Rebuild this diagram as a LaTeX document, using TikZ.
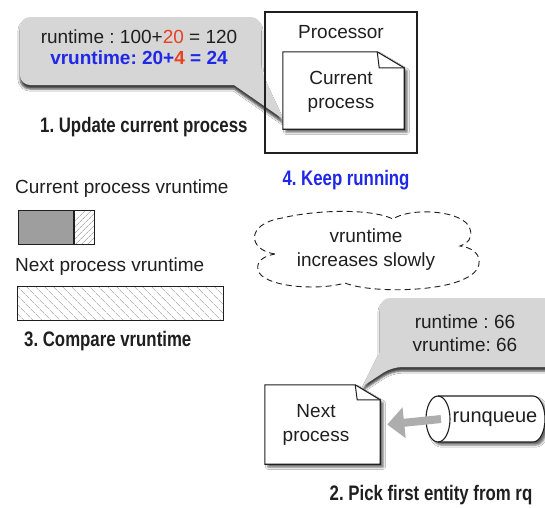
\documentclass[tikz,border=0pt]{standalone}
\usepackage{fontspec}
\setmainfont{Liberation Sans}
\newfontfamily\condbold[FakeStretch=0.8]{Liberation Sans Bold}
\usetikzlibrary{shadows.blur,patterns.meta,arrows.meta}
\frenchspacing
\definecolor{bubblegray}{gray}{0.84}
\definecolor{numred}{RGB}{232,64,32}
\definecolor{vblue}{RGB}{32,40,232}
\definecolor{arrowgray}{gray}{0.68}
\definecolor{ink}{gray}{0.12}
\begin{document}
\begin{tikzpicture}[x=1pt,y=-1pt,
  every node/.style={inner sep=0pt, text=ink, font=\fontsize{19}{24}\selectfont},
  bubble/.style={fill=bubblegray, blur shadow={shadow xshift=0pt, shadow yshift=-4pt, shadow opacity=75}},
  docline/.style={draw=ink, line width=1.1pt, fill=white,
    blur shadow={shadow xshift=3pt, shadow yshift=-3pt, shadow opacity=60}},
  steplabel/.style={font=\condbold\fontsize{21}{24}\selectfont},
  barbox/.style={draw=ink, line width=1.2pt, anchor=north west, minimum height=34pt},
  hatchdown/.style={pattern={Lines[angle=-45,distance=6.5pt,line width=0.7pt]}, pattern color=black!40},
  hatchup/.style={pattern={Lines[angle=45,distance=4pt,line width=0.6pt]}, pattern color=black!45}]
\useasboundingbox (0,0) rectangle (545,507);
\clip (0,0) rectangle (545,507);
\fill[white] (0,0) rectangle (545,507);

% step 1: accounting bubble for the running task
\path[bubble] (20,50) [rounded corners=10pt] |- (261,17) -- (261,72)
  [sharp corners] -- (283,119) -- (234,85) [rounded corners=10pt] -| (20,50) -- cycle;
\node (rt1) at (139,37) {runtime : 100+\textcolor{numred}{20} = 120};
\node (vrt1) at (139,58) {\bfseries\color{vblue}vruntime: 20+\textcolor{numred}{4} = 24};
\node[steplabel, anchor=west] (s1) at (40,127) {1. Update current process};

% processor holding the current task
\node[draw=ink, line width=1.2pt, minimum width=152pt, minimum height=141pt] (proc) at (341,82.5) {};
\node (proclbl) at (341,32) {Processor};
\node[minimum width=121pt, minimum height=77pt] (cur) at (343.5,90.5) {};
\path[docline] (cur.south west) -- (cur.north west) -- ([xshift=-27pt]cur.north east)
  -- ([yshift=-16pt]cur.north east) -- (cur.south east) -- cycle;
\draw[ink, line width=1pt] ([xshift=-27pt]cur.north east) -- ++(2,16) -- ([yshift=-16pt]cur.north east);
\node[align=center] (curtxt) at (341,92) {Current\\process};
\node[steplabel, text=vblue] (s4) at (346,180) {4. Keep running};

% step 3: vruntime bars
\node[anchor=west] (curvlbl) at (15,189) {Current process vruntime};
\node[barbox, fill=black!38, minimum width=55pt] (curbar) at (18,210) {};
\node[barbox, hatchup, minimum width=20pt] (curinc) at (curbar.north east) {};
\node[anchor=west] (nextvlbl) at (15,267) {Next process vruntime};
\node[barbox, hatchdown, minimum width=206pt] (nextbar) at (17,286) {};
\node[steplabel, anchor=west] (s3) at (24,341) {3. Compare vruntime};

% note cloud: four big puffs drawn as one dashed outline
\draw[ink, dash pattern=on 6pt off 4pt, line width=0.9pt]
  (275,254) .. controls (248,250) and (245,224) .. (282,218)
  .. controls (315,210) and (370,208) .. (393,219)
  .. controls (410,207) and (465,210) .. (470,229)
  .. controls (473,238) and (468,243) .. (460,246)
  .. controls (484,249) and (486,270) .. (464,279)
  .. controls (438,292) and (370,293) .. (345,283)
  .. controls (318,291) and (262,287) .. (258,270)
  .. controls (256,261) and (264,256) .. cycle;
\node[align=center] (cloud) at (366,250) {vruntime\\increases slowly};

% step 2: accounting bubble for the next task
\path[bubble] (380,340) [rounded corners=10pt] |- (575,298) |- (392,367)
  [sharp corners] -- (363,386) -- (380,352) -- cycle;
\node (rt2) at (465,322) {runtime : 66};
\node (vrt2) at (465,345) {vruntime: 66};

% next task document
\node[minimum width=115pt, minimum height=79pt] (next) at (322.5,424.5) {};
\path[docline] (next.south west) -- (next.north west) -- ([xshift=-25pt]next.north east)
  -- ([yshift=-15pt]next.north east) -- (next.south east) -- cycle;
\draw[ink, line width=1pt] ([xshift=-25pt]next.north east) -- ++(2,15) -- ([yshift=-15pt]next.north east);
\node[align=center] (nexttxt) at (316,425) {Next\\process};

% runqueue cylinder
\path[docline] (438,396) -- (533,396) arc[start angle=-90, end angle=90, x radius=12, y radius=23]
  -- (438,442) arc[start angle=90, end angle=270, x radius=12, y radius=23] -- cycle;
\draw[ink, line width=1.1pt] (438,396) arc[start angle=-90, end angle=90, x radius=12, y radius=23];
\node (rq) at (495,419) {\fontsize{20}{24}\selectfont runqueue};
\coordinate (rqmouth) at (441,419);
\draw[arrowgray, line width=8pt, -{Triangle[width=30pt,length=17pt]}] (rqmouth) -- ([xshift=7pt]next.east);

\node[steplabel] (s2) at (431,495) {2. Pick first entity from rq};
\end{tikzpicture}
\end{document}
